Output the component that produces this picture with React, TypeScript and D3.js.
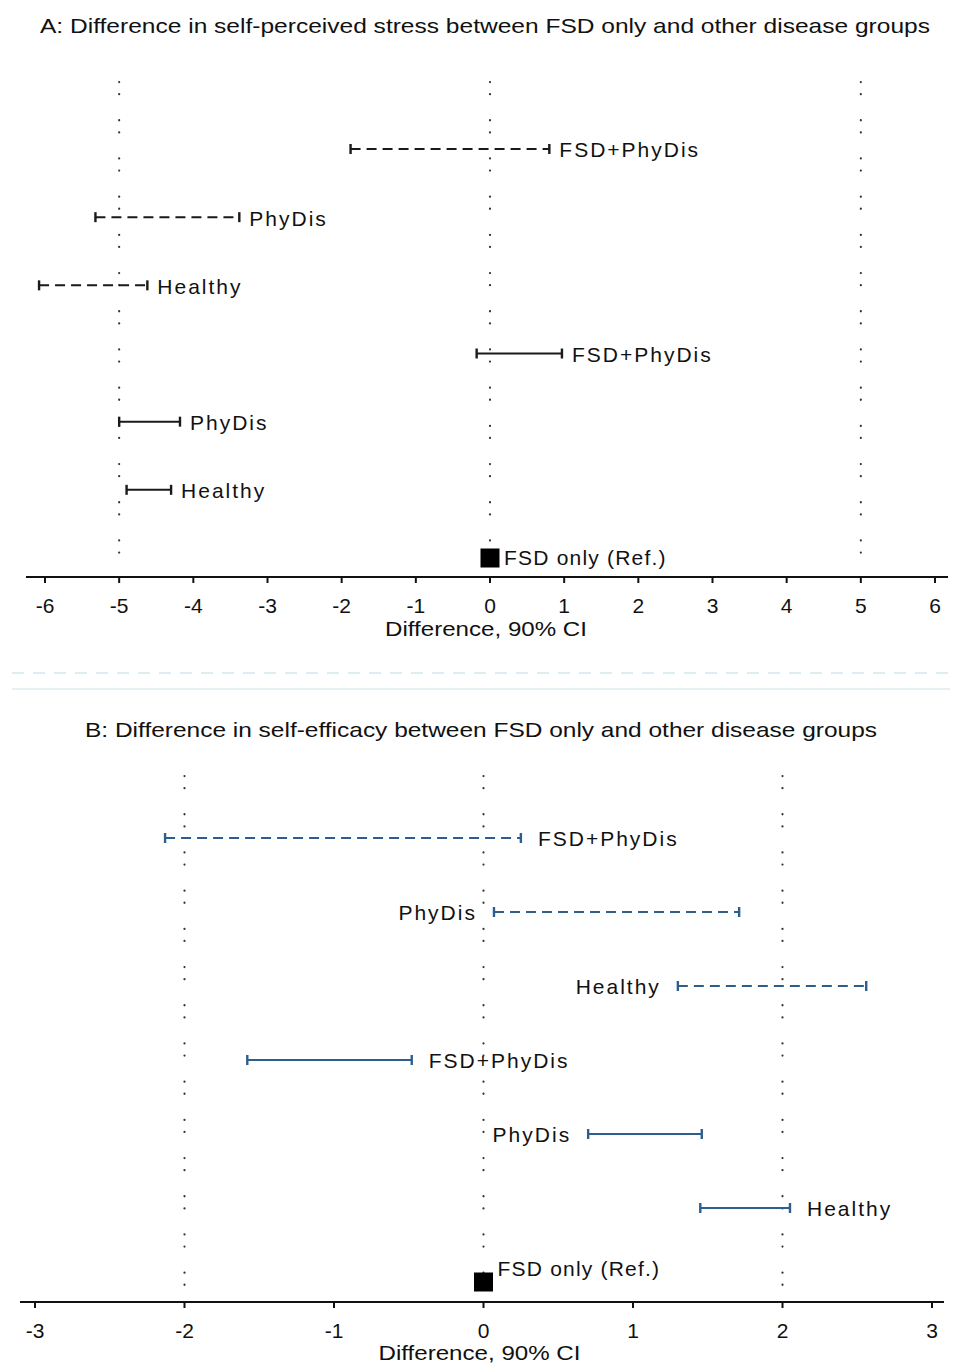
import React from 'react';
import * as d3 from 'd3';

// rows, top to bottom (the reference group sits on the last row)
const groups = ['FSD+PhyDis', 'PhyDis', 'Healthy', 'FSD+PhyDis', 'PhyDis', 'Healthy'];
const lineStyles = ['dash', 'dash', 'dash', 'solid', 'solid', 'solid'];
const refLabel = 'FSD only (Ref.)';

// A: self-perceived stress, 90% CI
const stressLow = [-1.88, -5.32, -6.08, -0.18, -5.0, -4.9];
const stressHigh = [0.8, -3.38, -4.62, 0.97, -4.18, -4.3];
const stressLabelSide = ['right', 'right', 'right', 'right', 'right', 'right'];
const stressTicks = [-6, -5, -4, -3, -2, -1, 0, 1, 2, 3, 4, 5, 6];
const stressGrid = [-5, 0, 5];

// B: self-efficacy, 90% CI
const effLow = [-2.13, 0.07, 1.3, -1.58, 0.7, 1.45];
const effHigh = [0.25, 1.71, 2.56, -0.48, 1.46, 2.05];
const effLabelSide = ['right', 'left', 'left', 'right', 'left', 'right'];
const effTicks = [-3, -2, -1, 0, 1, 2, 3];
const effGrid = [-2, 0, 2];

const FONT = '"Liberation Sans", Arial, sans-serif';

type PanelProps = {
  title: string;
  titleWidth: number;
  titleX: number;
  titleY: number;
  low: number[];
  high: number[];
  sides: string[];
  ticks: number[];
  grid: number[];
  xRange: [number, number];
  axisY: number;
  axisExtent: [number, number];
  rowRange: [number, number];
  gridTop: number;
  xLabelY: number;
  color: string;
  refDy: number;
  labelGap: number;
};

const Panel = (p: PanelProps) => {
  const x = d3
    .scaleLinear()
    .domain([p.ticks[0], p.ticks[p.ticks.length - 1]])
    .range(p.xRange);
  const y = d3.scaleLinear().domain([0, groups.length]).range(p.rowRange);
  const cap = 5;

  return (
    <g>
      <text
        x={p.titleX}
        y={p.titleY}
        textAnchor="middle"
        fontSize={21}
        textLength={p.titleWidth}
        lengthAdjust="spacingAndGlyphs"
        fill="#111"
      >
        {p.title}
      </text>

      {/* dotted reference lines */}
      {p.grid.map((g) => (
        <line
          key={'g' + g}
          x1={x(g)}
          x2={x(g)}
          y1={p.gridTop}
          y2={p.axisY}
          stroke="#333"
          strokeWidth={2.2}
          strokeDasharray="0.1,12,0.1,26"
          strokeLinecap="round"
        />
      ))}

      {/* confidence intervals */}
      {groups.map((name, i) => {
        const yy = y(i);
        const x0 = x(p.low[i]);
        const x1 = x(p.high[i]);
        const right = p.sides[i] === 'right';
        return (
          <g key={i}>
            <line
              x1={x0}
              x2={x1}
              y1={yy}
              y2={yy}
              stroke={p.color}
              strokeWidth={2}
              strokeDasharray={lineStyles[i] === 'dash' ? '10,6' : undefined}
            />
            <line x1={x0} x2={x0} y1={yy - cap} y2={yy + cap} stroke={p.color} strokeWidth={2.4} />
            <line x1={x1} x2={x1} y1={yy - cap} y2={yy + cap} stroke={p.color} strokeWidth={2.4} />
            <text
              x={right ? x1 + p.labelGap : x0 - p.labelGap}
              y={yy + 1}
              dy="0.35em"
              textAnchor={right ? 'start' : 'end'}
              fontSize={21}
              letterSpacing={2}
              fill="#111"
            >
              {name}
            </text>
          </g>
        );
      })}

      {/* reference group */}
      <rect
        x={x(0) - 9.5}
        y={y(groups.length) - 9.5}
        width={19}
        height={19}
        fill="#000"
      />
      <text
        x={x(0) + 14}
        y={y(groups.length) + p.refDy}
        dy="0.35em"
        fontSize={21}
        letterSpacing={1.2}
        fill="#111"
      >
        {refLabel}
      </text>

      {/* x axis */}
      <line
        x1={p.axisExtent[0]}
        x2={p.axisExtent[1]}
        y1={p.axisY}
        y2={p.axisY}
        stroke="#111"
        strokeWidth={2}
      />
      {p.ticks.map((t) => (
        <g key={'t' + t}>
          <line x1={x(t)} x2={x(t)} y1={p.axisY} y2={p.axisY + 6} stroke="#111" strokeWidth={2} />
          <text x={x(t)} y={p.axisY + 36} textAnchor="middle" fontSize={21} fill="#111">
            {t}
          </text>
        </g>
      ))}
      <text
        x={x(0) - 4}
        y={p.xLabelY}
        textAnchor="middle"
        fontSize={21}
        textLength={202}
        lengthAdjust="spacingAndGlyphs"
        fill="#111"
      >
        Difference, 90% CI
      </text>
    </g>
  );
};

export default function App() {
  return (
    <div style={{ position: 'absolute', left: 0, top: 0 }}>
      <svg width={953} height={1365} style={{ display: 'block', fontFamily: FONT }}>
        <rect width={953} height={1365} fill="#fff" />
        <Panel
          title="A: Difference in self-perceived stress between FSD only and other disease groups"
          titleWidth={890}
          titleX={485}
          titleY={33}
          low={stressLow}
          high={stressHigh}
          sides={stressLabelSide}
          ticks={stressTicks}
          grid={stressGrid}
          xRange={[45, 935]}
          axisY={577}
          axisExtent={[26, 948]}
          rowRange={[149, 558]}
          gridTop={82}
          xLabelY={636}
          color="#1a1a1a"
          refDy={0}
          labelGap={10}
        />

        {/* faint separator between the two graphs */}
        <line x1={12} x2={950} y1={673} y2={673} stroke="#dceef3" strokeWidth={2} strokeDasharray="12,9" />
        <line x1={12} x2={950} y1={689} y2={689} stroke="#e6f1f4" strokeWidth={2} />

        <Panel
          title="B: Difference in self-efficacy between FSD only and other disease groups"
          titleWidth={792}
          titleX={481}
          titleY={737}
          low={effLow}
          high={effHigh}
          sides={effLabelSide}
          ticks={effTicks}
          grid={effGrid}
          xRange={[35, 932]}
          axisY={1302}
          axisExtent={[20, 944]}
          rowRange={[838, 1282]}
          gridTop={776}
          xLabelY={1360}
          color="#2e5e8e"
          refDy={-13}
          labelGap={17}
        />
      </svg>
    </div>
  );
}
